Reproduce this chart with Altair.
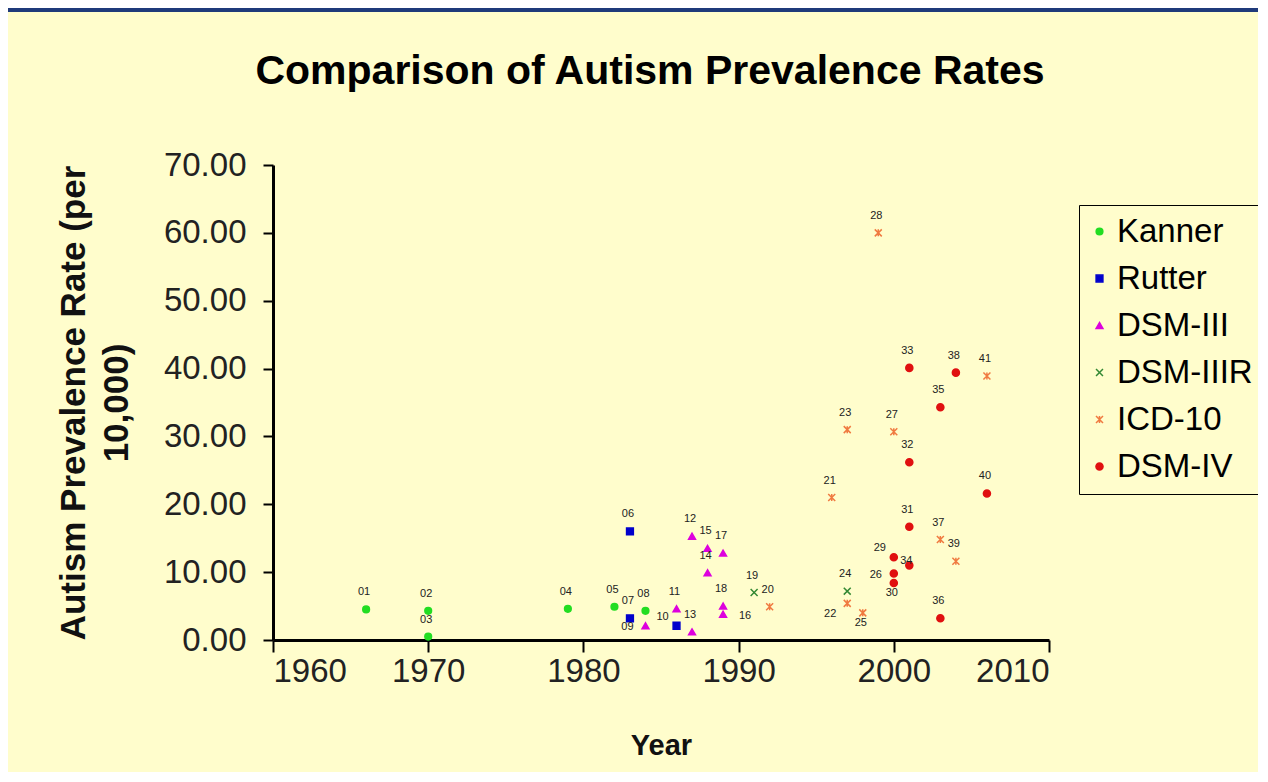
import altair as alt
import pandas as pd

# ---- data ----
labels = ["01", "02", "03", "04", "05", "06", "07", "08", "09", "10",
          "11", "12", "13", "14", "15", "16", "17", "18", "19", "20",
          "21", "22", "23", "24", "25", "26", "27", "28", "29", "30",
          "31", "32", "33", "34", "35", "36", "37", "38", "39", "40", "41"]
years = [1966, 1970, 1970, 1979, 1982, 1983, 1983, 1984, 1984, 1986,
         1986, 1987, 1987, 1988, 1988, 1989, 1989, 1989, 1991, 1992,
         1996, 1997, 1997, 1997, 1998, 2000, 2000, 1999, 2000, 2000,
         2001, 2001, 2001, 2001, 2003, 2003, 2003, 2004, 2004, 2006, 2006]
rates = [4.5, 4.3, 0.5, 4.6, 4.9, 16.0, 3.2, 4.3, 2.1, 2.1,
         4.6, 15.3, 1.2, 9.9, 13.5, 3.8, 12.8, 5.0, 7.0, 4.9,
         21.0, 5.4, 31.0, 7.2, 4.0, 9.8, 30.7, 60.0, 12.2, 8.4,
         16.7, 26.2, 40.1, 11.0, 34.3, 3.2, 14.8, 39.4, 11.6, 21.6, 38.9]
criteria = ["Kanner", "Kanner", "Kanner", "Kanner", "Kanner", "Rutter", "Rutter", "Kanner", "DSM-III", "Rutter",
            "DSM-III", "DSM-III", "DSM-III", "DSM-III", "DSM-III", "DSM-III", "DSM-III", "DSM-III", "DSM-IIIR", "ICD-10",
            "ICD-10", "ICD-10", "ICD-10", "DSM-IIIR", "ICD-10", "DSM-IV", "ICD-10", "ICD-10", "DSM-IV", "DSM-IV",
            "DSM-IV", "DSM-IV", "DSM-IV", "DSM-IV", "DSM-IV", "DSM-IV", "ICD-10", "DSM-IV", "ICD-10", "DSM-IV", "ICD-10"]
# where each data label sits relative to its marker
label_side = ["a", "a", "a", "a", "a", "a", "a", "a", "l", "ul",
              "a", "a", "a", "a", "a", "r", "a", "a", "a", "a",
              "a", "bl", "a", "a", "b", "l", "a", "a", "ul", "b",
              "a", "a", "a", "c", "a", "a", "a", "a", "a", "a", "a"]

categories = ["Kanner", "Rutter", "DSM-III", "DSM-IIIR", "ICD-10", "DSM-IV"]
cat_colors = ["#22DD22", "#0000CC", "#DD00DD", "#338833", "#F07A40", "#E01010"]
X_PATH = "M-1,-1L1,1M-1,1L1,-1"
STAR_PATH = "M-1,-1L1,1M-1,1L1,-1M0,-1L0,1"
cat_shapes = ["circle", "square", "triangle-up", X_PATH, STAR_PATH, "circle"]
cat_sizes = [45, 50, 60, 45, 50, 50]

x_ticks = [1960, 1970, 1980, 1990, 2000, 2010]
y_ticks = [0, 10, 20, 30, 40, 50, 60, 70]

title_text = "Comparison of Autism Prevalence Rates"

df = pd.DataFrame({"label": labels, "year": years, "rate": rates,
                   "criteria": criteria, "side": label_side})

FONT = "Liberation Sans"

x_enc = alt.X("year:Q",
              scale=alt.Scale(domain=[1960, 2010], nice=False, zero=False),
              axis=alt.Axis(values=x_ticks, format="d", title="Year",
                            tickSize=12, labelPadding=3, titlePadding=43,
                            titleFontSize=29))
y_enc = alt.Y("rate:Q",
              scale=alt.Scale(domain=[0, 70], nice=False),
              axis=alt.Axis(values=y_ticks, format=".2f",
                            title=["Autism Prevalence Rate (per", "10,000)"],
                            tickSize=10, labelPadding=17, titlePadding=29,
                            titleFontSize=35, titleLineHeight=43))

base = alt.Chart(df)

legend = alt.Legend(title=None, orient="none", legendX=806, legendY=40,
                    strokeColor="black", fillColor="#FFFDCC", padding=10,
                    labelFont=FONT, labelFontSize=33, labelColor="black",
                    labelOffset=1, symbolOffset=-6, symbolSize=30,
                    symbolStrokeWidth=1.5, rowPadding=13)

points = base.mark_point(filled=True, strokeWidth=1.5, opacity=1).encode(
    x=x_enc,
    y=y_enc,
    color=alt.Color("criteria:N", scale=alt.Scale(domain=categories, range=cat_colors), legend=legend),
    stroke=alt.Stroke("criteria:N", scale=alt.Scale(domain=categories, range=cat_colors), legend=legend),
    shape=alt.Shape("criteria:N", scale=alt.Scale(domain=categories, range=cat_shapes), legend=legend),
    size=alt.Size("criteria:N", scale=alt.Scale(domain=categories, range=cat_sizes), legend=None),
)

offsets = {"a": (-2, -17), "l": (-18, 1), "r": (22, 2), "ul": (-14, -9),
           "bl": (-17, 11), "b": (-2, 10), "c": (-3, -4)}
text_layers = []
for side, (ddx, ddy) in offsets.items():
    text_layers.append(
        base.transform_filter(alt.datum.side == side)
        .mark_text(dx=ddx, dy=ddy, font=FONT, fontSize=11, color="#222222")
        .encode(x=x_enc, y=y_enc, text="label:N")
    )

one = pd.DataFrame({"k": [0]})
top_line = alt.Chart(one).mark_rule(color="#1F3A7A", strokeWidth=4).encode(
    x=alt.value(-265), x2=alt.value(1000), y=alt.value(-155)
)
title_mark = alt.Chart(one).mark_text(
    font=FONT, fontSize=41, fontWeight="bold", color="black",
    align="center", baseline="alphabetic"
).encode(x=alt.value(377), y=alt.value(-81), text=alt.value(title_text))

chart = alt.layer(top_line, title_mark, points, *text_layers).properties(
    width=776, height=475,
    background="#FFFDCC",
    padding={"left": 265, "top": 157, "right": 209, "bottom": 132},
    autosize=alt.AutoSizeParams(type="none"),
).configure_view(stroke=None).configure_axis(
    grid=False, domainColor="black", domainWidth=3, tickColor="black", tickWidth=2,
    labelFont=FONT, labelFontSize=33, labelColor="#222222",
    titleFont=FONT, titleFontWeight="bold", titleColor="#111111",
)

chart.save("out.html", embed_options={"renderer": "svg", "actions": False})
